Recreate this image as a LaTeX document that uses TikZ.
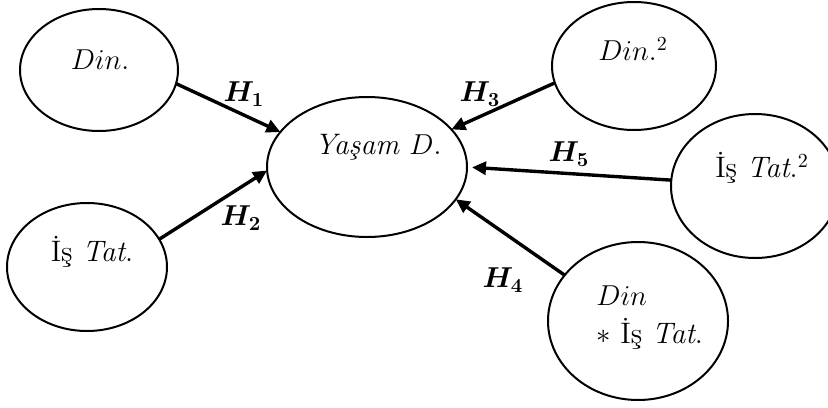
\documentclass[tikz,border=0pt]{standalone}
\usepackage{fontspec}
\usepackage{bm}
\usetikzlibrary{shapes.geometric,arrows.meta}
\begin{document}
\begin{tikzpicture}[x=0.5pt,y=-0.5pt,
  var/.style={draw,ellipse,line width=1pt,inner sep=0pt,outer sep=0pt},
  txt/.style={font=\fontsize{14.8}{19}\selectfont,inner sep=0pt},
  hlab/.style={font=\fontsize{14.5}{17}\selectfont,inner sep=0pt},
  arr/.style={line width=1.7pt,-{Triangle[length=7pt,width=6.5pt]}}]
\useasboundingbox (0,0) rectangle (828,407);
\clip (0,0) rectangle (828,407);

% variables (ellipses)
\node[var,minimum width=79pt,minimum height=61pt] (din)   at (99,70)  {};
\node[var,minimum width=80pt,minimum height=64pt] (ist)   at (87,267) {};
\node[var,minimum width=100pt,minimum height=70pt] (yas)  at (367,167) {};
\node[var,minimum width=82pt,minimum height=64pt] (din2)  at (634,66) {};
\node[var,minimum width=84pt,minimum height=72pt] (ist2)  at (755,186) {};
\node[var,minimum width=90pt,minimum height=79pt] (inter) at (638,321) {};

% variable names
\node[txt] (tdin)   at (100,60)  {$Din.$};
\node[txt] (tist)   at (92,252)  {İş \textit{Tat}.};
\node[txt] (tyas)   at (378,147) {\textit{Yaşam} $D.$};
\node[txt] (tdin2)  at (633,49)  {$Din.^{2}$};
\node[txt] (tist2)  at (762,168) {İş \textit{Tat}.$^{2}$};
\node[txt,anchor=west,align=left] (tinter) at (596,318) {$Din$\\ $\ast$ İş \textit{Tat}.};

% hypothesised paths
\draw[arr] (din.-10)   -- (yas.158);
\draw[arr] (ist.21)    -- (yas.182);
\draw[arr] (din2.192)  -- (yas.24);
\draw[arr,shorten >=2.5pt] (ist2.176) -- (yas.0);
\draw[arr] (inter.148) -- (yas.-20.6);

% path labels
\node[hlab] (h1) at (244,94)  {$\bm{H_1}$};
\node[hlab] (h2) at (241,218) {$\bm{H_2}$};
\node[hlab] (h3) at (480,94)  {$\bm{H_3}$};
\node[hlab] (h5) at (569,154) {$\bm{H_5}$};
\node[hlab] (h4) at (503,280) {$\bm{H_4}$};
\end{tikzpicture}
\end{document}
